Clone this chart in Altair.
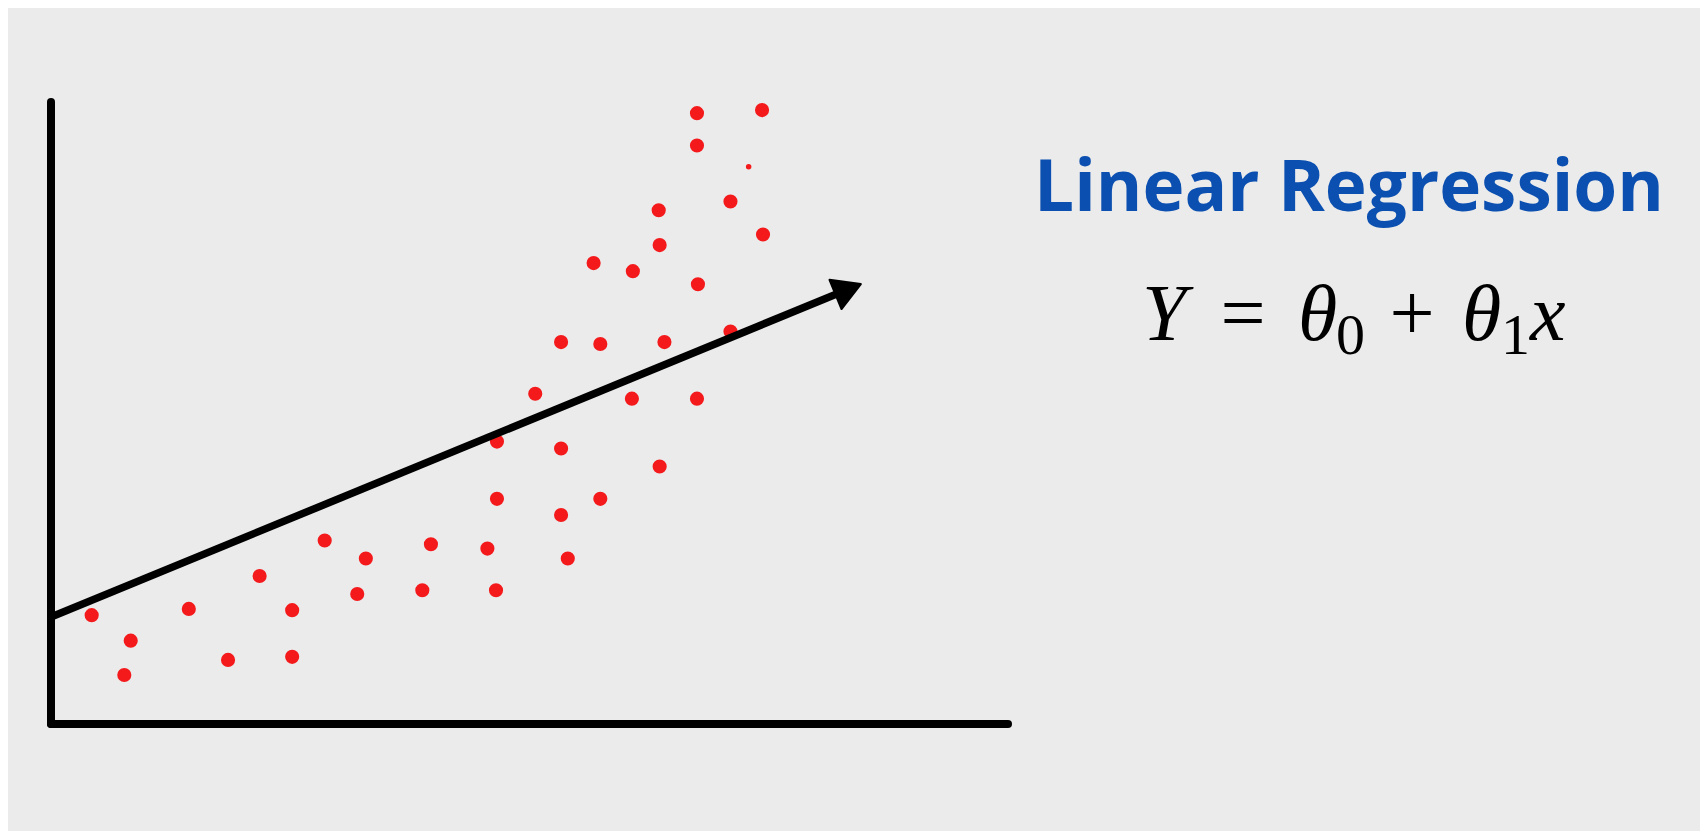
import altair as alt
import pandas as pd

# ---- data (in axis units 0..100) ----
pt_x = [4.25, 8.33, 7.66, 14.4, 18.5, 21.8, 25.2, 25.2, 28.6, 32.9,
        32.0, 39.7, 38.8, 45.6, 46.5, 53.3, 54.0, 46.6, 57.4, 50.6,
        60.7, 67.5, 46.6, 53.3, 63.6, 63.6, 74.4, 56.7, 60.8, 67.6,
        53.3, 57.4, 64.1, 71.0, 67.5, 74.3, 67.5, 71.0, 63.5]
pt_y = [17.5, 13.4, 7.88, 18.5, 10.3, 23.8, 18.3, 10.8, 29.5, 26.6,
        20.9, 28.9, 21.5, 28.2, 21.5, 33.6, 26.6, 36.2, 36.2, 53.1,
        52.3, 52.3, 45.4, 44.3, 41.4, 77.0, 78.7, 74.1, 72.8, 70.7,
        61.4, 61.1, 61.4, 63.1, 98.2, 98.7, 93.0, 84.0, 82.6]
speck_x = [72.9]
speck_y = [89.6]

fit_x = [0.0, 83.3]
fit_y = [17.2, 69.9]

axis_x = [0, 0]
axis_y = [0, 0]
axis_x2 = [100, 0]
axis_y2 = [0, 100]

title_text = "Linear Regression"

# ---- layout ----
W, H = 957, 622
PAD = {"left": 43, "top": 94, "right": 692, "bottom": 107}

xs = alt.Scale(domain=[0, 100], nice=False, zero=False)
ys = alt.Scale(domain=[0, 100], nice=False, zero=False)

pts = pd.DataFrame({"x": pt_x, "y": pt_y})
speck = pd.DataFrame({"x": speck_x, "y": speck_y})
fit = pd.DataFrame({"x": fit_x, "y": fit_y})
axes_df = pd.DataFrame({"x": axis_x, "y": axis_y, "x2": axis_x2, "y2": axis_y2})

RED = "#f41a1c"

dots = alt.Chart(pts).mark_circle(color=RED, opacity=1, size=200).encode(
    x=alt.X("x:Q", scale=xs, axis=None),
    y=alt.Y("y:Q", scale=ys, axis=None),
)
speck_layer = alt.Chart(speck).mark_circle(color=RED, opacity=1, size=30).encode(
    x=alt.X("x:Q", scale=xs, axis=None),
    y=alt.Y("y:Q", scale=ys, axis=None),
)

axes_layer = alt.Chart(axes_df).mark_rule(color="black", strokeWidth=8, strokeCap="round").encode(
    x=alt.X("x:Q", scale=xs, axis=None),
    y=alt.Y("y:Q", scale=ys, axis=None),
    x2="x2:Q",
    y2="y2:Q",
)

line_layer = alt.Chart(fit).mark_line(color="black", strokeWidth=7.5).encode(
    x=alt.X("x:Q", scale=xs, axis=None),
    y=alt.Y("y:Q", scale=ys, axis=None),
)

head = alt.Chart(fit.tail(1)).mark_point(
    shape="triangle-up", filled=True, color="black", opacity=1, size=1000, angle=67.7,
    stroke="black", strokeWidth=2, strokeJoin="round",
).encode(
    x=alt.X("x:Q", scale=xs, axis=None),
    y=alt.Y("y:Q", scale=ys, axis=None),
)

OX, OY = 51, 102  # page position of plot origin


def txt(s, px, py, size, font, italic=False, weight="normal", color="black", align="left"):
    return alt.Chart(pd.DataFrame({"t": [s]})).mark_text(
        font=font, fontSize=size, fontStyle="italic" if italic else "normal",
        fontWeight=weight, color=color, align=align, baseline="alphabetic",
    ).encode(text="t:N", x=alt.value(px - OX), y=alt.value(py - OY))


title = txt(title_text, 1349, 211, 71, "Open Sans", weight="bold", color="#0b4fb0", align="center")

SERIF = "Liberation Serif"
FS = 80
BASE = 340
formula = [
    txt("Y", 1142, BASE, FS, SERIF, italic=True),
    txt("=", 1243, BASE, FS, SERIF, align="center"),
    txt("θ", 1298, BASE, FS, SERIF, italic=True),
    txt("0", 1336, BASE + 14, 58, SERIF),
    txt("+", 1412, BASE, FS, SERIF, align="center"),
    txt("θ", 1462, BASE, FS, SERIF, italic=True),
    txt("1", 1501, BASE + 14, 58, SERIF),
    txt("x", 1530, BASE, FS, SERIF, italic=True),
]

chart = alt.layer(
    dots, speck_layer, axes_layer, line_layer, head, title, *formula
).properties(
    width=W, height=H, padding=PAD,
    autosize=alt.AutoSizeParams(type="none"),
    background="#ebebeb",
).configure_view(strokeWidth=0)

chart.save("out.html", embed_options={"renderer": "svg", "actions": False})
